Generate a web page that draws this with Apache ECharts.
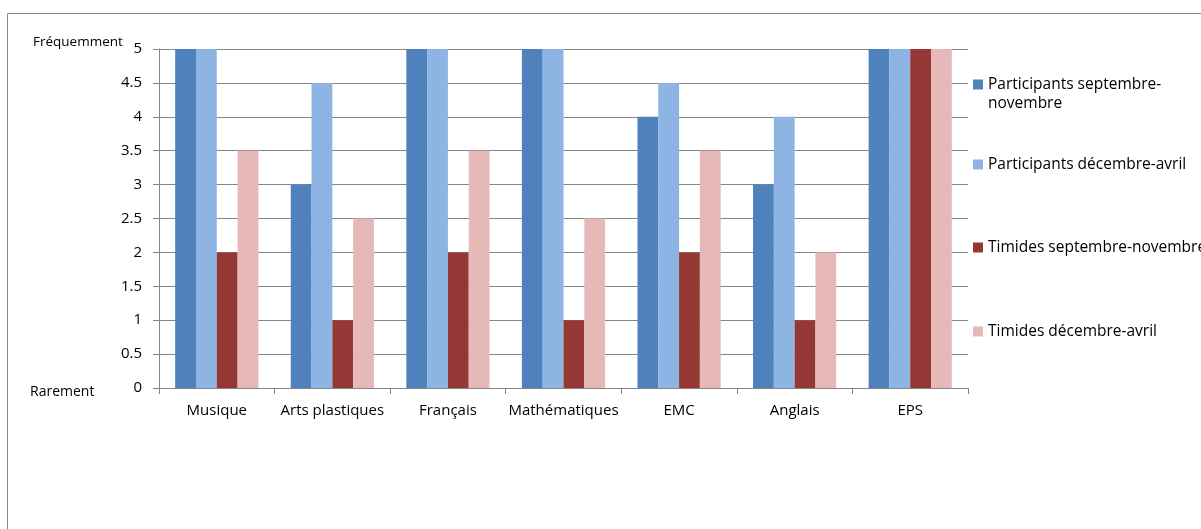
<!DOCTYPE html>
<html><head><meta charset="utf-8">
<script src="https://cdn.jsdelivr.net/npm/echarts@6/dist/echarts.min.js"></script>
<style>html,body{margin:0;padding:0;background:#fff}#c{width:1201px;height:529px}</style>
</head><body><div id="c"></div>
<script>
const categories = ['Musique','Arts plastiques','Français','Mathématiques','EMC','Anglais','EPS'];
const seriesNames = ['Participants septembre-novembre','Participants décembre-avril','Timides septembre-novembre','Timides décembre-avril'];
const partSepNov = [5, 3, 5, 5, 4, 3, 5];
const partDecAvr = [5, 4.5, 5, 5, 4.5, 4, 5];
const timSepNov = [2, 1, 2, 1, 2, 1, 5];
const timDecAvr = [3.5, 2.5, 3.5, 2.5, 3.5, 2, 5];
const colors = ['#4F81BD','#8EB4E3','#953735','#E6B9B8'];
const FONT = 'Open Sans';
const values = [partSepNov, partDecAvr, timSepNov, timDecAvr];

const chart = echarts.init(document.getElementById('c'), null, {renderer:'canvas'});
const legendTops = [56, 155, 238, 322];
const legends = seriesNames.map((n, i) => ({
  data: [n], orient: 'vertical', left: 973, top: legendTops[i], padding: 0,
  itemWidth: 10, itemHeight: 10, icon: 'rect', selectedMode: false,
  formatter: i === 0 ? ' \nParticipants septembre-\nnovembre' : '{name}',
  textStyle: {fontFamily: FONT, fontSize: 15.5, color: '#000', lineHeight: 19}
}));
chart.setOption({
  animation: false,
  color: colors,
  textStyle: {fontFamily: FONT},
  grid: {left: 159, right: 233, top: 49, bottom: 141, containLabel: false},
  legend: legends,
  xAxis: {
    type: 'category', data: categories,
    axisLine: {lineStyle: {color: '#868686', width: 1}},
    axisTick: {show: true, length: 6, lineStyle: {color: '#868686'}},
    axisLabel: {color: '#000', fontSize: 15, fontFamily: FONT, margin: 15, interval: 0}
  },
  yAxis: {
    type: 'value', min: 0, max: 5, interval: 0.5,
    axisLine: {show: true, lineStyle: {color: '#868686', width: 1}},
    axisTick: {show: true, length: 6, inside: false, lineStyle: {color: '#868686'}},
    axisLabel: {color: '#000', fontSize: 15, fontFamily: FONT, margin: 17},
    splitLine: {show: true, lineStyle: {color: '#868686', width: 1}}
  },
  series: seriesNames.map((n, i) => ({
    name: n, type: 'bar', data: values[i],
    barGap: '0%', barCategoryGap: '28%',
    itemStyle: {color: colors[i]}
  })),
  graphic: [
    {type: 'rect', shape: {x: 7.5, y: 13.5, width: 1400, height: 700}, style: {fill: null, stroke: '#868686', lineWidth: 1}, silent: true, z: -10},
    {type: 'text', left: 33, top: 35, style: {text: 'Fréquemment', font: '13.5px ' + FONT, fill: '#000'}},
    {type: 'text', left: 30, top: 385, style: {text: 'Rarement', font: '14px ' + FONT, fill: '#000'}}
  ]
});
</script>
</body></html>
